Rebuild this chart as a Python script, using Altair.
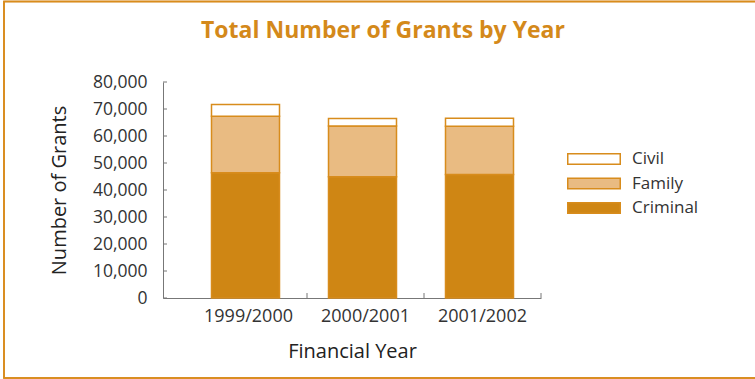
import altair as alt
import pandas as pd

years = ["1999/2000", "2000/2001", "2001/2002"]
criminal = [46400, 44900, 45700]
family = [20900, 18800, 17900]
civil = [4400, 2800, 3000]
categories = ["Civil", "Family", "Criminal"]
colors = ["#FFFFFF", "#E9BB82", "#CF8614"]
y_ticks = [0, 10000, 20000, 30000, 40000, 50000, 60000, 70000, 80000]

rows = []
for i, yr in enumerate(years):
    rows.append({"year": yr, "type": "Criminal", "ord": 0, "value": criminal[i]})
    rows.append({"year": yr, "type": "Family", "ord": 1, "value": family[i]})
    rows.append({"year": yr, "type": "Civil", "ord": 2, "value": civil[i]})
df = pd.DataFrame(rows)
ticks_df = pd.DataFrame({"value": y_ticks})
years_df = pd.DataFrame({"year": years})

ORANGE = "#D88C1C"
FONT = "Open Sans"
W, H = 378, 216

xscale = alt.Scale(domain=years, paddingInner=0, paddingOuter=0.1154, align=1)
yscale = alt.Scale(domain=[0, 80000])

x_axis = alt.Axis(title="Financial Year", labelAngle=0, tickSize=0,
                  labelPadding=9, titlePadding=16,
                  labelFontSize=18, titleFontSize=20, labelFont=FONT, titleFont=FONT,
                  labelColor="#333333", titleColor="#222222", titleFontWeight="normal",
                  domainColor="#777777")
y_axis = alt.Axis(title="Number of Grants", values=y_ticks, format=",d", tickSize=0,
                  labelPadding=16, titlePadding=23, grid=False, labelOverlap=False,
                  labelFontSize=17.5, titleFontSize=20, labelFont=FONT, titleFont=FONT,
                  labelColor="#333333", titleColor="#222222", titleFontWeight="normal",
                  domainColor="#777777")

bars = alt.Chart(df).mark_bar(size=68, stroke=ORANGE, strokeWidth=1.5, xOffset=-3).encode(
    x=alt.X("year:N", scale=xscale, sort=years, axis=x_axis),
    y=alt.Y("value:Q", scale=yscale, stack="zero", axis=y_axis),
    color=alt.Color("type:N", scale=alt.Scale(domain=categories, range=colors),
                    legend=alt.Legend(title=None, orient="none", legendX=419.5, legendY=65.5,
                                      symbolType="M-2.5,-0.5H2.5V0.5H-2.5Z", symbolSize=441,
                                      symbolStrokeColor=ORANGE, symbolStrokeWidth=1.5,
                                      labelOffset=26.5, rowPadding=4.5, labelFontSize=17,
                                      labelFont=FONT, labelColor="#333333", padding=0)),
    order=alt.Order("ord:Q"),
)

ytick_rules = alt.Chart(ticks_df).mark_rule(color="#777777", strokeWidth=1).encode(
    x=alt.value(0), x2=alt.value(4), y=alt.Y("value:Q", scale=yscale, axis=y_axis))

xtick_rules = alt.Chart(years_df).mark_rule(color="#777777", strokeWidth=1).encode(
    x=alt.X("year:N", scale=xscale, sort=years, bandPosition=1, axis=x_axis),
    y=alt.value(H - 5), y2=alt.value(H))

border = alt.Chart(years_df).mark_rect(fill=None, stroke=ORANGE, strokeWidth=1.5, opacity=0.9).encode(
    x=alt.value(-159), x2=alt.value(700), y=alt.value(-80.5), y2=alt.value(296))

chart = alt.layer(border, bars, ytick_rules, xtick_rules).properties(
    width=W, height=H,
    autosize=alt.AutoSizeParams(type="none"),
    padding={"left": 163, "top": 82, "right": 214, "bottom": 81},
    title=alt.Title("Total Number of Grants by Year", font=FONT, fontSize=23, fontWeight="bold",
                    color="#D4891A", anchor="middle", dx=31, offset=-42),
).configure_view(stroke=None).configure_axis(labelFlush=False)

chart.save("out.html", embed_options={"renderer": "svg", "actions": False})
